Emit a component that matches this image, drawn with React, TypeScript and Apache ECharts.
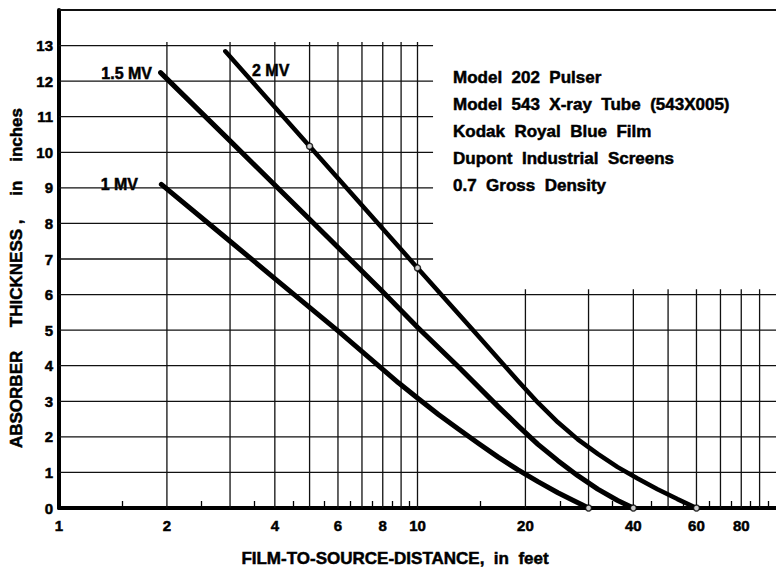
import React, { useEffect, useRef } from "react";
import * as echarts from "echarts";

// ---- data ----
const mv1: [number, number][] = [
  [1.93, 9.1], [3, 7.5], [4, 6.45], [6, 4.98], [8.85, 3.52], [10.06, 3.07],
  [11.44, 2.63], [13, 2.22], [14.77, 1.82], [16.79, 1.43], [19.08, 1.07],
  [21.68, 0.74], [24.64, 0.43], [27.13, 0.22], [30, 0],
];
const mv15: [number, number][] = [
  [1.92, 12.24], [3, 10.32], [5, 8.12], [8, 6.08], [10, 5.08], [13, 3.97],
  [16.79, 2.85], [19.08, 2.31], [21.68, 1.79], [24.64, 1.33], [28, 0.91],
  [31.83, 0.53], [36.17, 0.21], [40, 0],
];
const mv2: [number, number][] = [
  [2.91, 12.84], [5, 10.17], [8, 7.85], [10, 6.75], [14.5, 4.93], [19.08, 3.57],
  [21.68, 2.96], [24.64, 2.41], [28, 1.93], [31.83, 1.52], [36.17, 1.15],
  [41.11, 0.83], [46.71, 0.53], [53.09, 0.25], [60, 0],
];
const markerPoints: [number, number][] = [[5, 10.17], [10, 6.75], [30, 0], [40, 0], [60, 0]];

const xLabelValues = [1, 2, 4, 6, 8, 10, 20, 40, 60, 80];
const xMinorTicks = [1.5, 2.5, 3.5, 4.5, 5.5, 6.5, 7.5, 8.5, 9.5, 15, 25, 35, 45, 55, 65, 75, 85, 95];
const upperVGrid = [2, 3, 4, 5, 6, 7, 8, 9, 10];
const lowerVGrid = [20, 30, 40, 50, 60, 70, 80, 90];
const fullHGrid = [1, 2, 3, 4, 5, 6];
const upperHGrid = [7, 8, 9, 10, 11, 12, 13];

const notes = [
  "Model  202  Pulser",
  "Model  543  X-ray  Tube  (543X005)",
  "Kodak  Royal  Blue  Film",
  "Dupont  Industrial  Screens",
  "0.7  Gross  Density",
];
const curveNames = ["1 MV", "1.5 MV", "2 MV"];

const FONT = "'Liberation Sans', Arial, sans-serif";

export default function App() {
  const ref = useRef<HTMLDivElement>(null);
  useEffect(() => {
    if (!ref.current) return;
    const chart = echarts.init(ref.current, null, { renderer: "svg" });
    const gridLine = (data: [number, number][], w = 1.3) => ({
      type: "line",
      data,
      symbol: "none",
      silent: true,
      z: 1,
      lineStyle: { color: "#111", width: w },
    });
    const gridSeries: any[] = [];
    upperVGrid.forEach((x) => gridSeries.push(gridLine([[x, 0], [x, 13.1]])));
    lowerVGrid.forEach((x) => gridSeries.push(gridLine([[x, 0], [x, 6.15]])));
    fullHGrid.forEach((y) => gridSeries.push(gridLine([[1, y], [100, y]])));
    upperHGrid.forEach((y) => gridSeries.push(gridLine([[1, y], [11.05, y]])));
    gridSeries.push(gridLine([[1, 14], [100, 14]], 2));

    const curve = (name: string, data: [number, number][], w: number) => ({
      type: "line",
      name,
      data,
      symbol: "none",
      smooth: false,
      z: 3,
      lineStyle: { color: "#000", width: w, cap: "round", join: "round" },
    });

    const txt = (text: string, x: number, y: number, size: number, align = "left", rotation = 0) => ({
      type: "text",
      x,
      y,
      rotation,
      silent: true,
      style: {
        text,
        fill: "#000",
        stroke: "#000",
        lineWidth: 0.5,
        font: `bold ${size}px ${FONT}`,
        textAlign: align,
        textVerticalAlign: "middle",
      },
    });

    const labelStyle = {
      color: "#000",
      fontSize: 15,
      fontWeight: "bold",
      fontFamily: FONT,
      textBorderColor: "#000",
      textBorderWidth: 0.5,
    };

    chart.setOption({
      animation: false,
      backgroundColor: "#fff",
      grid: { left: 59, top: 10, width: 720, height: 498, containLabel: false },
      xAxis: {
        type: "log",
        logBase: 10,
        min: 1,
        max: 100,
        axisLine: { lineStyle: { color: "#000", width: 4 } },
        axisTick: {
          show: true,
          inside: true,
          length: 7,
          customValues: xMinorTicks,
          lineStyle: { color: "#000", width: 1.3 },
        },
        minorTick: { show: false },
        axisLabel: {
          customValues: xLabelValues,
          formatter: (v: number) => String(Math.round(v)),
          margin: 10,
          ...labelStyle,
        },
        splitLine: { show: false },
      },
      yAxis: {
        type: "value",
        min: 0,
        max: 14,
        interval: 1,
        axisLine: { show: true, lineStyle: { color: "#000", width: 4 } },
        axisTick: { show: false },
        axisLabel: {
          formatter: (v: number) => (v >= 14 ? "" : String(v)),
          margin: 6,
          ...labelStyle,
        },
        splitLine: { show: false },
      },
      series: [
        ...gridSeries,
        curve(curveNames[0], mv1, 5),
        curve(curveNames[1], mv15, 5),
        curve(curveNames[2], mv2, 4.5),
        {
          type: "scatter",
          data: markerPoints,
          symbol: "circle",
          symbolSize: 6,
          z: 4,
          silent: true,
          itemStyle: { color: "#fff", borderColor: "#000", borderWidth: 1.5 },
        },
      ],
      graphic: [
        ...notes.map((t, i) => txt(t, 453, 77 + i * 27, 17)),
        txt(curveNames[1], 152, 73, 16, "right"),
        txt(curveNames[0], 138, 184, 16, "right"),
        txt(curveNames[2], 252, 70, 16, "left"),
        txt("FILM-TO-SOURCE-DISTANCE,  in  feet", 395, 558, 17, "center"),
        txt("ABSORBER     THICKNESS ,     in    inches", 16, 278, 17, "center", Math.PI / 2),
      ],
    });
    return () => chart.dispose();
  }, []);
  return (
    <div
      ref={ref}
      style={{ position: "absolute", left: 0, top: 0, width: 776, height: 567 }}
    />
  );
}
